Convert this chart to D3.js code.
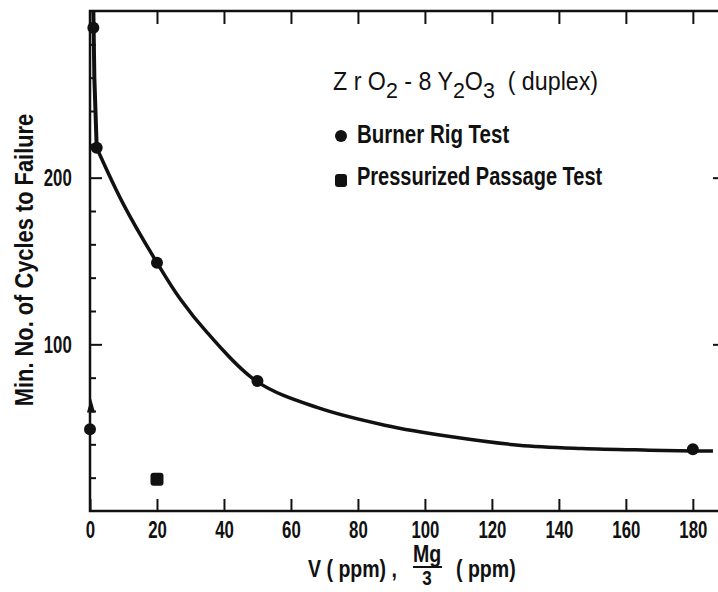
<!DOCTYPE html>
<html>
<head>
<meta charset="utf-8">
<script src="https://cdn.jsdelivr.net/npm/d3@7"></script>
<style>
  body { margin: 0; background: #fff; }
  svg { display: block; font-family: "Liberation Sans", Arial, sans-serif; }
</style>
</head>
<body>
<div id="chart"></div>
<script>
// Burner rig test points: V (ppm) vs min. cycles to failure
const burnerX = [1, 2, 20, 50, 180, 0];
const burnerY = [290, 218, 149, 78, 37, 49];

// Pressurized passage test point
const passageX = [20];
const passageY = [19];

// small arrow marker sitting on the axis
const arrowX = [0];
const arrowY = [62];

// faired curve: near-vertical part along the axis
const steepX = [1.0, 1.3, 2];
const steepY = [300, 260, 218];
// and the decay part
const curveX = [2, 10, 20, 27, 35, 50, 68, 88, 108, 128, 147, 167, 180, 186];
const curveY = [218, 184, 149, 127, 107, 77.5, 62, 51.5, 44.5, 39.5, 37.5, 36.5, 36, 36];

// axis ticks
const xTicks = [0, 20, 40, 60, 80, 100, 120, 140, 160, 180];
const xTopTicks = [20, 40, 60, 80, 100, 120, 140, 160, 180];
const yMajor = [100, 200];
const yMinor = [20, 40, 60, 80, 120, 140, 160, 180, 220, 240, 260, 280];

const width = 718, height = 592;
const plot = { left: 90, right: 723, top: 11, bottom: 511 };

const svg = d3.select("#chart")
  .append("svg")
  .attr("width", width)
  .attr("height", height);

const xScale = d3.scaleLinear().domain([0, 189]).range([plot.left, plot.right]);
const yScale = d3.scaleLinear().domain([0, 300]).range([plot.bottom, plot.top]);

const ink = "#111";

// frame
svg.append("rect")
  .attr("x", plot.left).attr("y", plot.top)
  .attr("width", plot.right - plot.left).attr("height", plot.bottom - plot.top)
  .attr("fill", "none").attr("stroke", ink).attr("stroke-width", 2.5);

function styleAxis(g) {
  g.select(".domain").remove();
  g.selectAll(".tick line").attr("stroke", ink).attr("stroke-width", 2);
}

// tick digits in the scan are very condensed
function styleLabels(g) {
  g.selectAll("text")
    .attr("fill", ink)
    .attr("font-size", 24)
    .attr("font-weight", "bold")
    .attr("font-family", "Liberation Sans, Arial, sans-serif")
    .attr("transform", "scale(0.7,1)");
}

// bottom axis, ticks pointing in
svg.append("g")
  .attr("transform", "translate(0," + plot.bottom + ")")
  .call(d3.axisBottom(xScale).tickValues(xTicks).tickSize(-12).tickPadding(10).tickFormat(d3.format("d")))
  .call(styleAxis)
  .call(styleLabels);

// top axis
svg.append("g")
  .attr("transform", "translate(0," + plot.top + ")")
  .call(d3.axisTop(xScale).tickValues(xTopTicks).tickSize(-13).tickFormat(""))
  .call(styleAxis);

// left axis minor
svg.append("g")
  .attr("transform", "translate(" + plot.left + ",0)")
  .call(d3.axisLeft(yScale).tickValues(yMinor).tickSize(-6).tickFormat(""))
  .call(styleAxis);

// left axis major with labels
svg.append("g")
  .attr("transform", "translate(" + plot.left + ",0)")
  .call(d3.axisLeft(yScale).tickValues(yMajor).tickSize(-12).tickPadding(26).tickFormat(d3.format("d")))
  .call(styleAxis)
  .call(styleLabels);

// right axis
svg.append("g")
  .attr("transform", "translate(" + plot.right + ",0)")
  .call(d3.axisRight(yScale).tickValues(yMajor).tickSize(-10).tickFormat(""))
  .call(styleAxis);

// clip for the curve
svg.append("clipPath").attr("id", "plotclip")
  .append("rect")
  .attr("x", plot.left).attr("y", plot.top)
  .attr("width", plot.right - plot.left).attr("height", plot.bottom - plot.top);

const line = d3.line()
  .x(d => xScale(d.x))
  .y(d => yScale(d.y));

const steepData = steepX.map((d, i) => ({ x: d, y: steepY[i] }));
const curveData = curveX.map((d, i) => ({ x: d, y: curveY[i] }));

svg.append("path")
  .datum(steepData)
  .attr("clip-path", "url(#plotclip)")
  .attr("fill", "none")
  .attr("stroke", ink)
  .attr("stroke-width", 4)
  .attr("stroke-linejoin", "round")
  .attr("d", line.curve(d3.curveLinear));

svg.append("path")
  .datum(curveData)
  .attr("clip-path", "url(#plotclip)")
  .attr("fill", "none")
  .attr("stroke", ink)
  .attr("stroke-width", 3.5)
  .attr("stroke-linejoin", "round")
  .attr("d", line.curve(d3.curveCatmullRom.alpha(0.5)));

// burner rig circles
const burner = burnerX.map((d, i) => ({ x: d, y: burnerY[i] }));
svg.selectAll(".burner")
  .data(burner)
  .enter().append("circle")
  .attr("class", "burner")
  .attr("cx", d => xScale(d.x))
  .attr("cy", d => yScale(d.y))
  .attr("r", 6)
  .attr("fill", ink);

// pressurized passage squares
const passage = passageX.map((d, i) => ({ x: d, y: passageY[i] }));
svg.selectAll(".passage")
  .data(passage)
  .enter().append("rect")
  .attr("class", "passage")
  .attr("x", d => xScale(d.x) - 6.5)
  .attr("y", d => yScale(d.y) - 6.5)
  .attr("width", 13).attr("height", 13)
  .attr("rx", 3)
  .attr("fill", ink);

// arrow marker
const arrow = arrowX.map((d, i) => ({ x: d, y: arrowY[i] }));
svg.selectAll(".arrow")
  .data(arrow)
  .enter().append("path")
  .attr("class", "arrow")
  .attr("transform", d => "translate(" + (xScale(d.x) + 1) + "," + yScale(d.y) + ") scale(0.8,1.6)")
  .attr("d", d3.symbol().type(d3.symbolTriangle).size(45))
  .attr("fill", ink);

// condensed text: scale horizontally around the anchor point
function label(parent, x, y, size, sx, bold) {
  return parent.append("text")
    .attr("transform", "translate(" + x + "," + y + ") scale(" + sx + ",1)")
    .attr("font-size", size)
    .attr("font-weight", bold ? "bold" : "normal")
    .attr("fill", ink)
    .attr("xml:space", "preserve");
}

// legend
const legend = svg.append("g").attr("fill", ink);

const title = label(legend, 333, 90, 25, 0.93, false);
title.append("tspan").text("Z r O");
title.append("tspan").attr("dy", 8).attr("font-size", 23).text("2");
title.append("tspan").attr("dy", -8).text(" - 8 Y");
title.append("tspan").attr("dy", 8).attr("font-size", 23).text("2");
title.append("tspan").attr("dy", -8).text("O");
title.append("tspan").attr("dy", 8).attr("font-size", 23).text("3");
title.append("tspan").attr("dy", -8).text("  ( duplex)");

legend.append("circle").attr("cx", 341).attr("cy", 136).attr("r", 6);
label(legend, 357, 143, 25, 0.82, true).text("Burner Rig Test");

legend.append("rect")
  .attr("x", 335).attr("y", 174).attr("width", 12).attr("height", 13).attr("rx", 3);
label(legend, 357, 185, 25, 0.8, true).text("Pressurized Passage Test");

// y axis title
svg.append("text")
  .attr("transform", "translate(33,260) rotate(-90) scale(0.84,1)")
  .attr("text-anchor", "middle")
  .attr("font-size", 26).attr("font-weight", "bold")
  .attr("fill", ink)
  .text("Min. No. of Cycles to Failure");

// x axis title
const xt = svg.append("g");
label(xt, 308, 577, 23, 0.85, true).text("V ( ppm) ,");
label(xt, 427, 562, 23, 0.85, true).attr("text-anchor", "middle").text("Mg");
xt.append("line").attr("x1", 413).attr("x2", 442).attr("y1", 567).attr("y2", 567)
  .attr("stroke", ink).attr("stroke-width", 2);
label(xt, 427, 585, 20, 0.85, true).attr("text-anchor", "middle").text("3");
label(xt, 456, 577, 23, 0.85, true).text("( ppm)");
</script>
</body>
</html>
